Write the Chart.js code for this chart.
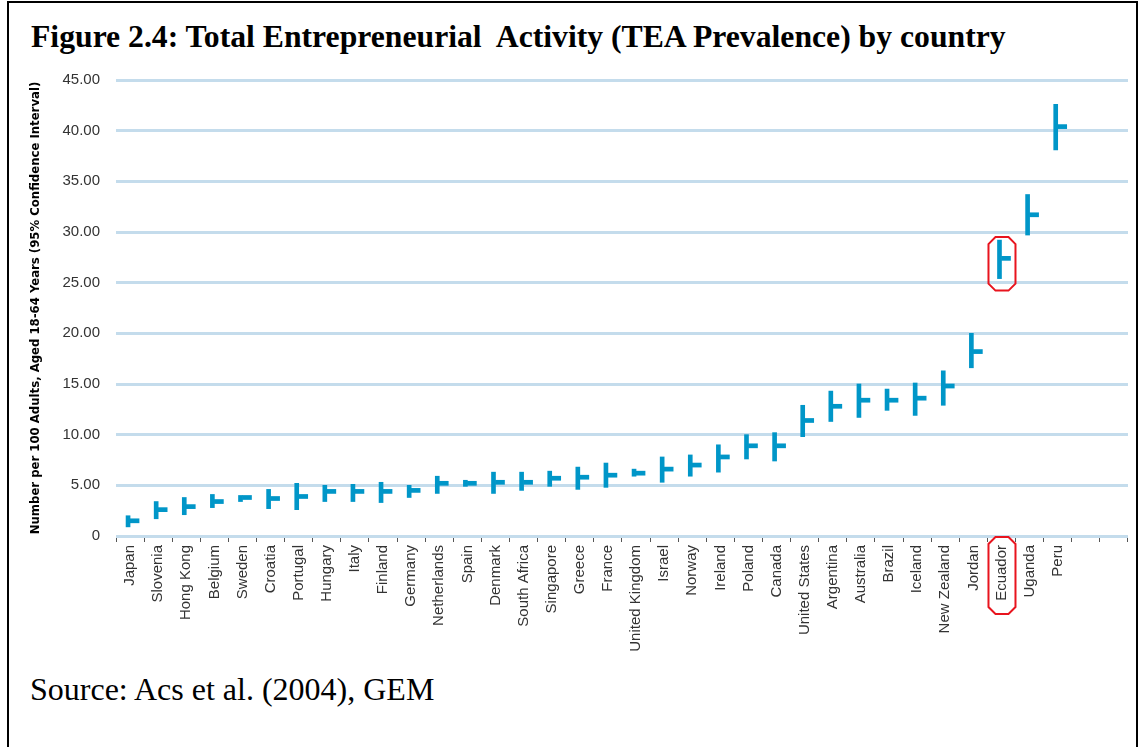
<!DOCTYPE html>
<html lang="en">
<head>
<meta charset="UTF-8">
<title>TEA Prevalence by country</title>
<script src="https://cdn.jsdelivr.net/npm/chart.js"></script>
<style>
  body { margin: 0; background: #fff; overflow: hidden; }
  .frame { position: absolute; left: 7px; top: 1px; width: 1131px; height: 780px; border: 2px solid #000; box-sizing: border-box; }
  h1 { position: absolute; left: 31px; top: 21px; margin: 0; font: bold 31.7px/32px "Liberation Serif", "Times New Roman", serif; white-space: pre; color: #000; }
  .chart-box { position: absolute; left: 20px; top: 55px; width: 1115px; height: 609px; }
  .source { position: absolute; left: 30px; top: 673px; font: 32px/32px "Liberation Serif", "Times New Roman", serif; white-space: pre; color: #000; }
</style>
</head>
<body>
<div class="frame"></div>
<h1>Figure 2.4: Total Entrepreneurial  Activity (TEA Prevalence) by country</h1>
<div class="chart-box"><canvas id="teaChart"></canvas></div>
<div class="source">Source: Acs et al. (2004), GEM</div>

<script>
// countries in order (two empty slots at the end of the axis)
const countries = ['Japan', 'Slovenia', 'Hong Kong', 'Belgium', 'Sweden', 'Croatia', 'Portugal', 'Hungary',
  'Italy', 'Finland', 'Germany', 'Netherlands', 'Spain', 'Denmark', 'South Africa', 'Singapore', 'Greece',
  'France', 'United Kingdom', 'Israel', 'Norway', 'Ireland', 'Poland', 'Canada', 'United States', 'Argentina',
  'Australia', 'Brazil', 'Iceland', 'New Zealand', 'Jordan', 'Ecuador', 'Uganda', 'Peru', '', ''];

// 95% confidence interval and point estimate, per 100 adults
const low = [0.9, 1.7, 2.1, 2.8, 3.4, 2.7, 2.6, 3.4, 3.4, 3.3, 3.8, 4.2, 4.9, 4.2, 4.5, 4.9, 4.6,
  4.8, 5.9, 5.3, 5.9, 6.3, 7.6, 7.4, 9.8, 11.3, 11.7, 12.4, 11.9, 12.9, 16.6, 25.4, 29.7, 38.1];
const estimate = [1.5, 2.6, 2.9, 3.4, 3.8, 3.7, 3.9, 4.4, 4.4, 4.4, 4.5, 5.2, 5.2, 5.3, 5.3, 5.7, 5.8,
  6.0, 6.2, 6.6, 7.0, 7.8, 8.9, 8.9, 11.4, 12.8, 13.4, 13.4, 13.6, 14.8, 18.2, 27.4, 31.7, 40.4];
const high = [2.0, 3.4, 3.8, 4.1, 4.0, 4.6, 5.2, 5.0, 5.1, 5.3, 5.0, 5.9, 5.5, 6.3, 6.3, 6.4, 6.8,
  7.2, 6.6, 7.8, 8.0, 9.0, 10.0, 10.2, 12.9, 14.3, 15.0, 14.5, 15.1, 16.3, 20.0, 29.2, 33.7, 42.6];

const yTicks = [0, 5, 10, 15, 20, 25, 30, 35, 40, 45];
const yTickLabels = ['0', '5.00', '10.00', '15.00', '20.00', '25.00', '30.00', '35.00', '40.00', '45.00'];

const highlight = 'Ecuador';

const blue = '#0096c8';
const tickHalf = 0.2; // half height of the estimate tick, in axis units

// draws the chamfered red boxes round the highlighted country
function octagon(ctx, l, t, r, b, c) {
    ctx.beginPath();
    ctx.moveTo(l + c, t);
    ctx.lineTo(r - c, t);
    ctx.lineTo(r, t + c);
    ctx.lineTo(r, b - c);
    ctx.lineTo(r - c, b);
    ctx.lineTo(l + c, b);
    ctx.lineTo(l, b - c);
    ctx.lineTo(l, t + c);
    ctx.closePath();
    ctx.stroke();
}

const highlightBoxes = {
    id: 'highlightBoxes',
    afterDraw(chart) {
        const ctx = chart.ctx;
        const x = chart.scales.x, y = chart.scales.y;
        const i = countries.indexOf(highlight);
        const px = x.getPixelForValue(i);
        ctx.save();
        ctx.strokeStyle = '#e8141e';
        ctx.lineWidth = 2;
        octagon(ctx, px - 13, y.getPixelForValue(high[i]) - 3, px + 14, y.getPixelForValue(low[i]) + 12, 7);
        octagon(ctx, px - 13, chart.chartArea.bottom + 1, px + 14, chart.chartArea.bottom + 78, 7);
        ctx.restore();
    }
};

new Chart(document.getElementById('teaChart'), {
    type: 'bar',
    data: {
        labels: countries,
        datasets: [{
            label: '95% interval',
            data: countries.map((c, i) => c ? [low[i], high[i]] : null),
            backgroundColor: blue,
            barThickness: 4
        }, {
            label: 'Estimate',
            data: countries.map((c, i) => c ? [estimate[i] - tickHalf, estimate[i] + tickHalf] : null),
            backgroundColor: blue,
            barThickness: 9
        }]
    },
    options: {
        responsive: true,
        maintainAspectRatio: false,
        animation: false,
        layout: { padding: { top: 6, right: 5, left: 0, bottom: 0 } },
        plugins: {
            legend: { display: false },
            tooltip: { enabled: false }
        },
        scales: {
            x: {
                grid: { display: true, drawOnChartArea: false, offset: true, tickLength: 6, color: '#555', lineWidth: 1 },
                border: { display: false },
                ticks: {
                    minRotation: 90, maxRotation: 90, autoSkip: false, padding: 3,
                    color: '#333', font: { family: 'Liberation Sans', size: 15 }
                },
                afterFit(s) { s.height = 128; }
            },
            y: {
                min: 0,
                max: 45,
                afterBuildTicks(s) { s.ticks = yTicks.map(v => ({ value: v })); },
                grid: { color: '#c4dcec', lineWidth: 3, drawTicks: false },
                border: { display: false },
                ticks: {
                    padding: 16, color: '#333',
                    font: { family: 'Liberation Sans', size: 15 },
                    callback: (v) => yTickLabels[yTicks.indexOf(v)]
                },
                title: {
                    display: true,
                    text: 'Number per 100 Adults, Aged 18-64 Years (95% Confidence Interval)',
                    color: '#000',
                    font: { family: "'Liberation Sans Narrow', 'DejaVu Sans Condensed', 'Liberation Sans', sans-serif", weight: 'bold', size: 13 },
                    padding: { top: 8, bottom: 0 }
                },
                afterFit(s) { s.width = 96; }
            }
        }
    },
    plugins: [highlightBoxes]
});
</script>
</body>
</html>
